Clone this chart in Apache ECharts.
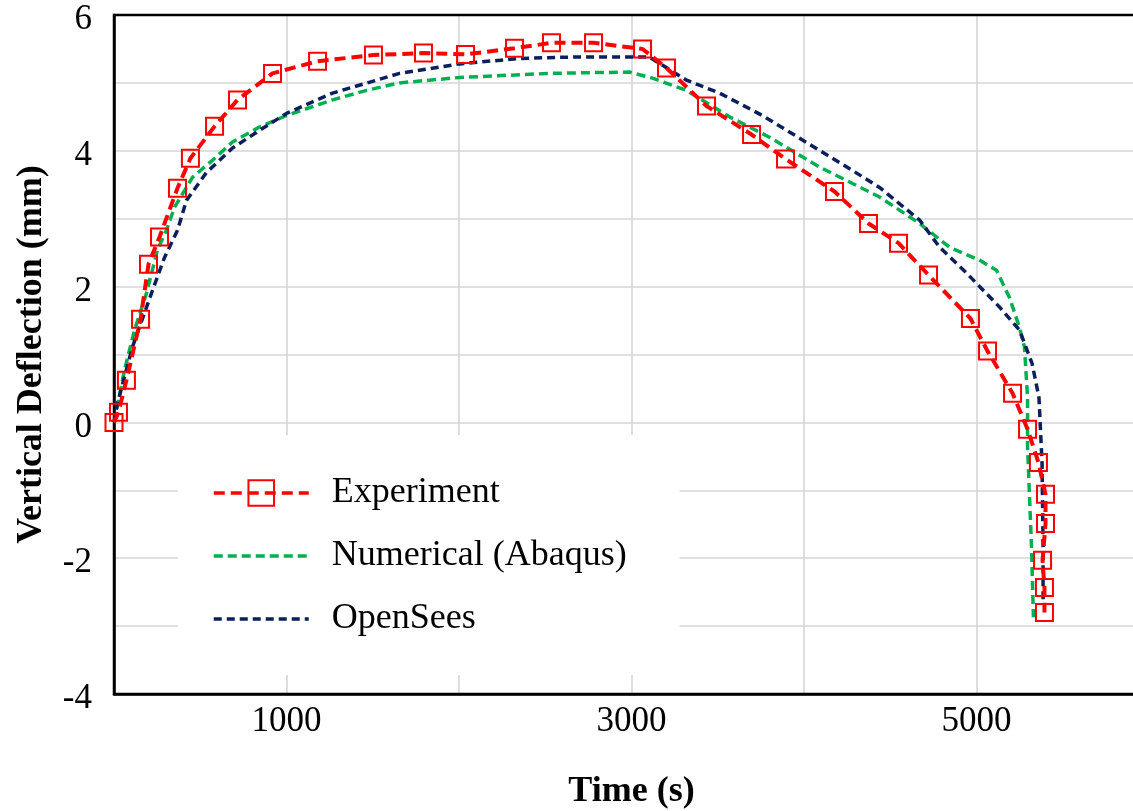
<!DOCTYPE html>
<html>
<head>
<meta charset="utf-8">
<script src="https://cdn.jsdelivr.net/npm/echarts@6/dist/echarts.min.js"></script>
<style>
html,body{margin:0;padding:0;background:#fff;}
#chart{width:1133px;height:811px;}
</style>
</head>
<body>
<div id="chart"></div>
<script>
// ---- Data ----
const seriesNames = ['Experiment', 'Numerical (Abaqus)', 'OpenSees'];

const expTime = [0, 26, 72, 154, 200, 264, 368, 443, 583, 716, 919, 1180, 1504, 1794, 2038, 2322, 2536, 2780, 3064, 3203, 3435, 3696, 3893, 4177, 4374, 4548, 4722, 4965, 5064, 5209, 5296, 5359, 5400, 5400, 5383, 5394, 5394];
const expDefl = [0, 0.15, 0.62, 1.52, 2.33, 2.73, 3.45, 3.89, 4.36, 4.75, 5.14, 5.32, 5.41, 5.44, 5.42, 5.51, 5.59, 5.59, 5.50, 5.22, 4.66, 4.24, 3.88, 3.40, 2.93, 2.64, 2.17, 1.53, 1.05, 0.43, -0.10, -0.59, -1.06, -1.49, -2.03, -2.43, -2.80];

const abqTime = [0, 61, 119, 188, 252, 304, 351, 455, 571, 687, 843, 1000, 1267, 1464, 1655, 2003, 2525, 2988, 3122, 3319, 3568, 3800, 4090, 4438, 4670, 4843, 5017, 5116, 5191, 5249, 5278, 5296, 5296, 5319, 5330];
const abqDefl = [0, 0.77, 1.36, 1.90, 2.54, 2.83, 3.17, 3.61, 3.86, 4.13, 4.35, 4.52, 4.75, 4.89, 5.00, 5.08, 5.14, 5.16, 5.07, 4.89, 4.50, 4.20, 3.76, 3.32, 2.93, 2.58, 2.39, 2.24, 1.84, 1.40, 1.11, 0.37, -0.37, -1.84, -2.87];

const osTime = [0, 20, 107, 217, 293, 368, 420, 536, 687, 843, 1000, 1267, 1655, 2003, 2351, 2641, 2988, 3104, 3319, 3510, 3759, 3991, 4281, 4438, 4670, 4786, 4942, 5133, 5249, 5322, 5362, 5380, 5386, 5386];
const osDefl = [0, 0.28, 1.11, 1.90, 2.43, 2.83, 3.27, 3.68, 4.04, 4.30, 4.55, 4.85, 5.14, 5.28, 5.36, 5.38, 5.38, 5.38, 5.04, 4.85, 4.52, 4.16, 3.71, 3.46, 2.98, 2.58, 2.20, 1.70, 1.36, 0.87, 0.37, -0.60, -1.84, -2.62];

const xLabelsShown = [1000, 3000, 5000];
const yLabelsShown = [-4, -2, 0, 2, 4, 6];

// ---- Build chart ----
const zip = (xs, ys) => xs.map((x, i) => [x, ys[i]]);
const serif = "'Liberation Serif', 'Times New Roman', serif";

const chart = echarts.init(document.getElementById('chart'), null, {renderer: 'canvas'});
chart.setOption({
  animation: false,
  backgroundColor: '#fff',
  grid: {
    left: 114, top: 15, bottom: 117, right: -16,
    outerBoundsMode: 'none', containLabel: false,
    show: true, borderColor: '#000', borderWidth: 2.5, backgroundColor: 'transparent', z: 3
  },
  xAxis: {
    type: 'value', min: 0, max: 6000, interval: 1000,
    name: 'Time (s)', nameLocation: 'middle', nameGap: 80,
    nameTextStyle: {fontFamily: serif, fontSize: 36, fontWeight: 'bold', color: '#000'},
    axisLine: {show: true, onZero: false, lineStyle: {color: '#000', width: 2.5}},
    axisTick: {show: false},
    axisLabel: {
      fontFamily: serif, fontSize: 35, color: '#000', margin: 10,
      formatter: v => xLabelsShown.includes(v) ? String(v) : ''
    },
    splitLine: {show: true, showMinLine: false, showMaxLine: false, lineStyle: {color: '#d6d6d6', width: 1.6}}
  },
  yAxis: {
    type: 'value', min: -4, max: 6, interval: 1,
    name: 'Vertical Deflection (mm)', nameLocation: 'middle', nameGap: 64,
    nameTextStyle: {fontFamily: serif, fontSize: 36, fontWeight: 'bold', color: '#000'},
    axisLine: {show: true, onZero: false, lineStyle: {color: '#000', width: 2.5}},
    axisTick: {show: false},
    axisLabel: {
      fontFamily: serif, fontSize: 35, color: '#000', margin: 22,
      formatter: v => yLabelsShown.includes(v) ? '{t|' + v + '}' : '',
      rich: {t: {fontFamily: serif, fontSize: 35, color: '#000', padding: [10, 0, 0, 0]}}
    },
    splitLine: {show: true, showMinLine: false, showMaxLine: false, lineStyle: {color: '#d6d6d6', width: 1.6}}
  },
  legend: {
    orient: 'vertical', left: 178, top: 435,
    backgroundColor: '#fff', borderWidth: 0,
    padding: [38, 53, 36, 34],
    itemWidth: 95, itemHeight: 32, itemGap: 23,
    lineStyle: {width: 3.5},
    textStyle: {fontFamily: serif, fontSize: 36, lineHeight: 40, color: '#000', padding: [0, 0, 0, 18]},
    selectedMode: false,
    data: [
      {name: seriesNames[0]},
      {name: seriesNames[1], itemStyle: {color: 'rgba(0,0,0,0)', borderWidth: 0, opacity: 0}},
      {name: seriesNames[2], itemStyle: {color: 'rgba(0,0,0,0)', borderWidth: 0, opacity: 0}}
    ]
  },
  series: [
    {
      name: seriesNames[1], type: 'line', data: zip(abqTime, abqDefl),
      symbol: 'none', smooth: false, z: 2,
      itemStyle: {color: '#00b050'},
      lineStyle: {color: '#00b050', width: 3.5, type: [9, 5]}
    },
    {
      name: seriesNames[2], type: 'line', data: zip(osTime, osDefl),
      symbol: 'none', smooth: false, z: 3,
      itemStyle: {color: '#0a1f5c'},
      lineStyle: {color: '#0a1f5c', width: 3.5, type: [8, 5]}
    },
    {
      name: seriesNames[0], type: 'line', data: zip(expTime, expDefl),
      symbol: 'rect', symbolSize: 17, smooth: false, z: 4,
      itemStyle: {color: 'rgba(0,0,0,0)', borderColor: '#ff0000', borderWidth: 2},
      lineStyle: {color: '#ff0000', width: 4, type: [11, 6]}
    }
  ]
});
</script>
</body>
</html>
